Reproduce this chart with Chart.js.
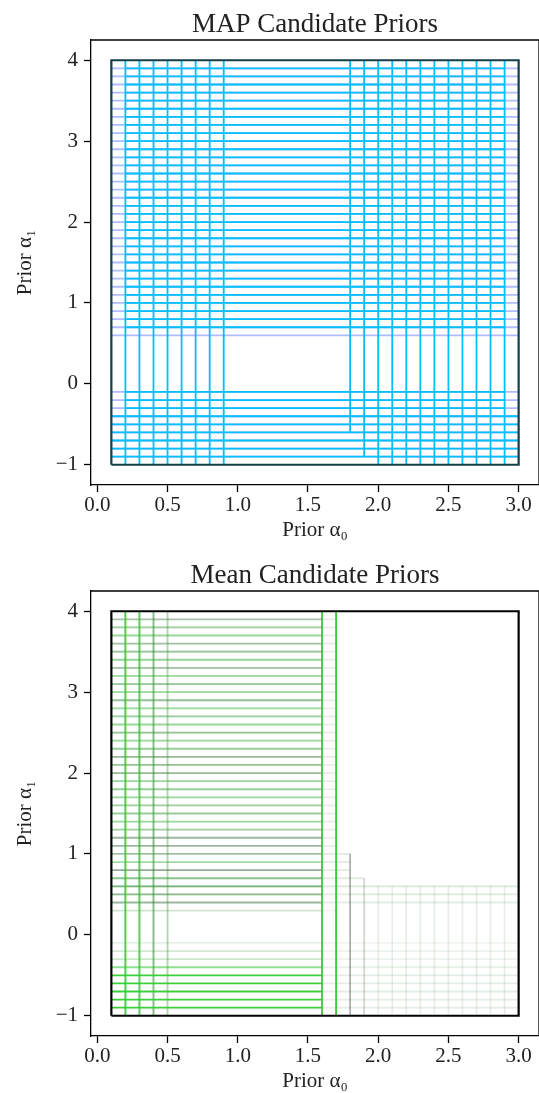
<!DOCTYPE html>
<html>
<head>
<meta charset="utf-8">
<script src="https://cdn.jsdelivr.net/npm/chart.js@4.4.1/dist/chart.umd.min.js"></script>
<style>
html,body{margin:0;padding:0;background:#fff;}
.wrap{position:absolute;left:0;width:539px;height:542px;}
</style>
</head>
<body>
<div class="wrap" style="top:0"><canvas id="mapChart" width="539" height="542"></canvas></div>
<div class="wrap" style="top:551px"><canvas id="meanChart" width="539" height="542"></canvas></div>
<script>
// axes / ticks
const xTicks=[0,0.5,1,1.5,2,2.5,3];
const yTicks=[-1,0,1,2,3,4];
const xRange=[-0.045,3.145];
const yRange=[-1.25,4.25];
// outer prior box (alpha0, alpha1)
const boxX=[0.1,3.0];
const boxY=[-1,4];

// MAP candidate priors
const mapColX=[0.2,0.3,0.4,0.5,0.6,0.7,0.8,0.9,1.8,1.9,2.0,2.1,2.2,2.3,2.4,2.5,2.6,2.7,2.8,2.9];
const mapColLo=[-1,-1,-1,-1,-1,-1,-1,-1,-0.6,-0.9,-1,-1,-1,-1,-1,-1,-1,-1,-1,-1];
const mapColHi=[4,4,4,4,4,4,4,4,4,4,4,4,4,4,4,4,4,4,4,4];
const mapRowY=[-0.9,-0.8,-0.7,-0.6,-0.5,-0.4,-0.3,-0.2,-0.1,0.7,0.8,0.9,1.0,1.1,1.2,1.3,1.4,1.5,1.6,1.7,1.8,1.9,2.0,2.1,2.2,2.3,2.4,2.5,2.6,2.7,2.8,2.9,3.0,3.1,3.2,3.3,3.4,3.5,3.6,3.7,3.8,3.9];
const mapRowLo=[0.1,0.1,0.1,0.1,0.1,0.1,0.2,0.2,0.2,0.2,0.2,0.2,0.2,0.2,0.2,0.2,0.2,0.2,0.2,0.2,0.2,0.2,0.2,0.2,0.2,0.2,0.2,0.2,0.2,0.2,0.2,0.2,0.2,0.2,0.2,0.2,0.2,0.2,0.2,0.2,0.2,0.2];
const mapRowHi=[3.0,3.0,3.0,3.0,3.0,3.0,2.9,2.9,2.9,2.9,2.9,2.9,2.9,2.9,2.9,2.9,2.9,2.9,2.9,2.9,2.9,2.9,2.9,2.9,2.9,2.9,2.9,2.9,2.9,2.9,2.9,2.9,2.9,2.9,2.9,2.9,2.9,2.9,2.9,2.9,2.9,2.9];
const mapFaintRowY=[-0.9,-0.8,-0.7,-0.6,-0.5,-0.4,-0.3,-0.2,-0.1,0.6,0.7,0.8,0.9,1.0,1.1,1.2,1.3,1.4,1.5,1.6,1.7,1.8,1.9,2.0,2.1,2.2,2.3,2.4,2.5,2.6,2.7,2.8,2.9,3.0,3.1,3.2,3.3,3.4,3.5,3.6,3.7,3.8,3.9];

// Mean candidate priors (weights of green / grey candidates)
const meanColX=[0.2,0.3,0.4,0.5,1.6,1.7,1.8,1.9,2.0,2.1,2.2,2.3,2.4,2.5,2.6,2.7,2.8,2.9];
const meanColHi=[4,4,4,4,4,4,1.0,0.7,0.6,0.6,0.6,0.6,0.6,0.6,0.6,0.6,0.6,0.6];
const meanColGreen=[0.9,0.75,0.35,0.25,1,1,0.05,0.05,0.05,0.05,0.05,0.05,0.05,0.05,0.05,0.05,0.05,0.05];
const meanColGrey=[0.1,0.2,0.3,0.15,0,0,0.3,0.15,0.06,0.06,0.06,0.06,0.06,0.06,0.06,0.06,0.06,0.06];
const meanRowY=[3.9,3.8,3.7,3.6,3.5,3.4,3.3,3.2,3.1,3.0,2.9,2.8,2.7,2.6,2.5,2.4,2.3,2.2,2.1,2.0,1.9,1.8,1.7,1.6,1.5,1.4,1.3,1.2,1.1,1.0,0.9,0.8,0.7,0.6,0.5,0.4,0.3,-0.1,-0.2,-0.3,-0.4,-0.5,-0.6,-0.7,-0.8,-0.9];
const meanRowGreen=[0.15,0.3,0.4,0.2,0.3,0.4,0.2,0.4,0.3,0.4,0.3,0.4,0.35,0.4,0.3,0.4,0.35,0.2,0.3,0.2,0.4,0.35,0.4,0.3,0.35,0.4,0.3,0.15,0.15,0.2,0.35,0.15,0.35,0.4,0.3,0.15,0.12,0.06,0.12,0.2,0.5,0.95,0.95,0.95,0.95,0.95];
const meanRowGrey=[0.25,0.2,0.12,0.25,0.25,0.15,0.25,0.12,0.25,0.12,0.25,0.12,0.18,0.12,0.25,0.12,0.18,0.3,0.25,0.3,0.12,0.18,0.12,0.18,0.18,0.12,0.18,0.3,0.3,0.25,0.12,0.35,0.25,0.35,0.3,0.3,0.1,0.05,0.08,0.06,0.06,0,0,0,0,0];
const meanRowEnd=[1.6,1.6,1.6,1.6,1.6,1.6,1.6,1.6,1.6,1.6,1.6,1.6,1.6,1.6,1.6,1.6,1.6,1.6,1.6,1.6,1.6,1.6,1.6,1.6,1.6,1.6,1.6,1.6,1.6,1.6,1.6,1.6,1.6,1.6,1.6,1.6,1.6,1.6,1.6,1.6,1.6,1.6,1.6,1.6,1.6,1.6];
const meanTailEnd=[1.7,1.7,1.7,1.7,1.7,1.7,1.7,1.7,1.7,1.7,1.7,1.7,1.7,1.7,1.7,1.7,1.7,1.7,1.7,1.7,1.7,1.7,1.7,1.7,1.7,1.7,1.7,1.7,1.7,1.8,1.8,1.8,1.9,3.0,3.0,3.0,1.7,3.0,3.0,3.0,3.0,3.0,3.0,3.0,3.0,3.0];
const meanTailW=[0.1,0.1,0.1,0.1,0.1,0.1,0.1,0.1,0.1,0.1,0.1,0.1,0.1,0.1,0.1,0.1,0.1,0.1,0.1,0.1,0.1,0.1,0.1,0.1,0.1,0.1,0.1,0.1,0.1,0.12,0.12,0.12,0.12,0.14,0.12,0.1,0.06,0.06,0.07,0.07,0.09,0.1,0.1,0.1,0.1,0.1];

const F='"Liberation Serif", "DejaVu Serif", serif';
const TXT='#222';

function seg(pts,color,order,w){
  return {data:pts,borderColor:color,borderWidth:w||1.8,showLine:true,pointRadius:0,fill:false,tension:0,order:order};
}
function boxSet(color){
  return seg([{x:boxX[0],y:boxY[0]},{x:boxX[1],y:boxY[0]},{x:boxX[1],y:boxY[1]},{x:boxX[0],y:boxY[1]},{x:boxX[0],y:boxY[0]}],color,0,2.2);
}

const spine={id:'spine',afterDraw(c){
  const {ctx,chartArea:a}=c;
  ctx.save();ctx.strokeStyle='#000';ctx.lineWidth=1.3;
  ctx.beginPath();ctx.moveTo(a.left,a.top);ctx.lineTo(a.right,a.top);ctx.lineTo(a.right,a.bottom);ctx.stroke();
  ctx.restore();
}};

function opts(title){
  return {
    responsive:false,animation:false,
    layout:{padding:0},
    plugins:{legend:{display:false},tooltip:{enabled:false},
      title:{display:true,fullSize:false,text:title,color:TXT,font:{family:F,size:27,weight:'normal',lineHeight:1},padding:{top:11,bottom:2}}},
    scales:{
      x:{type:'linear',min:xRange[0],max:xRange[1],
        afterBuildTicks:s=>{s.ticks=xTicks.map(v=>({value:v}));},
        afterFit:s=>{s.height=57;},
        grid:{drawOnChartArea:false,drawTicks:true,tickLength:7,tickWidth:1.3,tickColor:'#000'},
        border:{color:'#000',width:1.3},
        ticks:{color:TXT,font:{family:F,size:21},padding:1,maxRotation:0,autoSkip:false,callback:v=>v.toFixed(1)},
        title:{display:true,text:'Prior α₀',color:TXT,font:{family:F,size:21,lineHeight:1},padding:{top:0,bottom:1}}},
      y:{type:'linear',min:yRange[0],max:yRange[1],
        afterBuildTicks:s=>{s.ticks=yTicks.map(v=>({value:v}));},
        afterFit:s=>{s.width=91;},
        grid:{drawOnChartArea:false,drawTicks:true,tickLength:7,tickWidth:1.3,tickColor:'#000'},
        border:{color:'#000',width:1.3},
        ticks:{color:TXT,font:{family:F,size:21},padding:6,autoSkip:false,callback:v=>v<0?'\u2212'+Math.abs(v):String(v)},
        title:{display:true,text:'Prior α₁',color:TXT,font:{family:F,size:21,lineHeight:1},padding:{top:15,bottom:0}}}
    }
  };
}

// MAP chart
const mapSets=[boxSet('#123e4a')];
mapFaintRowY.forEach(y=>mapSets.push(seg([{x:boxX[0],y},{x:boxX[1],y}],'rgba(100,120,255,0.5)',3)));
mapRowY.forEach((y,i)=>mapSets.push(seg([{x:mapRowLo[i],y},{x:mapRowHi[i],y}],'#00BFFF',2)));
mapColX.forEach((x,i)=>mapSets.push(seg([{x,y:mapColLo[i]},{x,y:mapColHi[i]}],'#00BFFF',2)));
new Chart(document.getElementById('mapChart'),{type:'scatter',data:{datasets:mapSets},options:opts('MAP Candidate Priors'),plugins:[spine]});

// Mean chart
const meanSets=[boxSet('#000')];
meanRowY.forEach((y,i)=>{
  meanSets.push(seg([{x:meanRowEnd[i],y},{x:meanTailEnd[i],y}],`rgba(0,90,0,${meanTailW[i]})`,4));
  if(meanRowGrey[i]>0) meanSets.push(seg([{x:boxX[0],y},{x:meanRowEnd[i],y}],`rgba(0,0,0,${meanRowGrey[i]})`,3));
  meanSets.push(seg([{x:boxX[0],y},{x:meanRowEnd[i],y}],`rgba(50,205,50,${meanRowGreen[i]})`,2));
});
meanColX.forEach((x,i)=>{
  if(meanColGrey[i]>0) meanSets.push(seg([{x,y:boxY[0]},{x,y:meanColHi[i]}],`rgba(0,0,0,${meanColGrey[i]})`,3));
  meanSets.push(seg([{x,y:boxY[0]},{x,y:meanColHi[i]}],`rgba(50,205,50,${meanColGreen[i]})`,1));
});
new Chart(document.getElementById('meanChart'),{type:'scatter',data:{datasets:meanSets},options:opts('Mean Candidate Priors'),plugins:[spine]});
</script>
</body>
</html>
